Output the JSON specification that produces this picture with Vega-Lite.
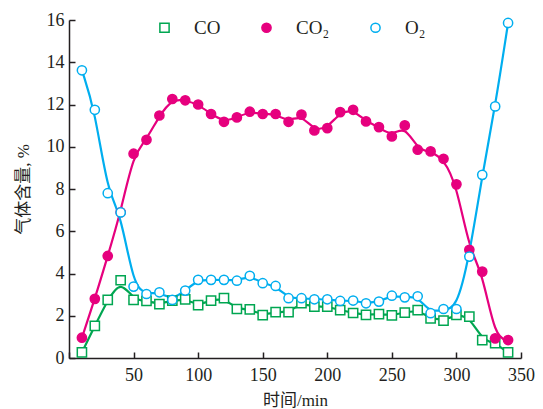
{
  "$schema": "https://vega.github.io/schema/vega-lite/v6.json",
  "width": 452,
  "height": 338,
  "autosize": "none",
  "padding": {"left": 69, "top": 20, "right": 22, "bottom": 51},
  "background": "white",
  "config": {
    "view": {"stroke": null},
    "font": "Liberation Serif, Noto Sans CJK SC",
    "axis": {
      "grid": false,
      "domainColor": "#231f20",
      "domainWidth": 1.5,
      "tickColor": "#231f20",
      "tickWidth": 1.5,
      "tickSize": -6,
      "labelFont": "Liberation Serif",
      "labelFontSize": 18,
      "labelColor": "#231f20",
      "labelOverlap": false,
      "labelBound": false,
      "labelFlush": false,
      "titleFont": "Liberation Serif, Noto Sans CJK SC",
      "titleFontSize": 17,
      "titleFontWeight": "normal",
      "titleColor": "#231f20"
    },
    "legend": {
      "title": null,
      "orient": "none",
      "legendX": 86,
      "legendY": -2,
      "direction": "horizontal",
      "padding": 0,
      "symbolSize": 85,
      "symbolStrokeWidth": 1.5,
      "labelFont": "Liberation Serif",
      "labelFontSize": 19,
      "labelColor": "#231f20",
      "labelOffset": 20,
      "columnPadding": 36
    }
  },
  "data": {
    "values": [
      {"t": 10, "gas": "CO", "v": 0.27}, {"t": 20, "gas": "CO", "v": 1.52}, {"t": 30, "gas": "CO", "v": 2.75}, {"t": 40, "gas": "CO", "v": 3.68},
      {"t": 50, "gas": "CO", "v": 2.75}, {"t": 60, "gas": "CO", "v": 2.7}, {"t": 70, "gas": "CO", "v": 2.55}, {"t": 80, "gas": "CO", "v": 2.72},
      {"t": 90, "gas": "CO", "v": 2.78}, {"t": 100, "gas": "CO", "v": 2.5}, {"t": 110, "gas": "CO", "v": 2.72}, {"t": 120, "gas": "CO", "v": 2.83},
      {"t": 130, "gas": "CO", "v": 2.32}, {"t": 140, "gas": "CO", "v": 2.3}, {"t": 150, "gas": "CO", "v": 2.03}, {"t": 160, "gas": "CO", "v": 2.17},
      {"t": 170, "gas": "CO", "v": 2.17}, {"t": 180, "gas": "CO", "v": 2.6}, {"t": 190, "gas": "CO", "v": 2.43}, {"t": 200, "gas": "CO", "v": 2.43},
      {"t": 210, "gas": "CO", "v": 2.27}, {"t": 220, "gas": "CO", "v": 2.13}, {"t": 230, "gas": "CO", "v": 2.04}, {"t": 240, "gas": "CO", "v": 2.08},
      {"t": 250, "gas": "CO", "v": 2.02}, {"t": 260, "gas": "CO", "v": 2.15}, {"t": 270, "gas": "CO", "v": 2.27}, {"t": 280, "gas": "CO", "v": 1.88},
      {"t": 290, "gas": "CO", "v": 1.77}, {"t": 300, "gas": "CO", "v": 2.04}, {"t": 310, "gas": "CO", "v": 1.96}, {"t": 320, "gas": "CO", "v": 0.85},
      {"t": 330, "gas": "CO", "v": 0.7}, {"t": 340, "gas": "CO", "v": 0.27},
      {"t": 10, "gas": "CO₂", "v": 0.96}, {"t": 20, "gas": "CO₂", "v": 2.8}, {"t": 30, "gas": "CO₂", "v": 4.83}, {"t": 40, "gas": "CO₂", "v": 6.9},
      {"t": 50, "gas": "CO₂", "v": 9.67}, {"t": 60, "gas": "CO₂", "v": 10.33}, {"t": 70, "gas": "CO₂", "v": 11.48}, {"t": 80, "gas": "CO₂", "v": 12.26},
      {"t": 90, "gas": "CO₂", "v": 12.2}, {"t": 100, "gas": "CO₂", "v": 12.0}, {"t": 110, "gas": "CO₂", "v": 11.55}, {"t": 120, "gas": "CO₂", "v": 11.18},
      {"t": 130, "gas": "CO₂", "v": 11.39}, {"t": 140, "gas": "CO₂", "v": 11.66}, {"t": 150, "gas": "CO₂", "v": 11.55}, {"t": 160, "gas": "CO₂", "v": 11.55},
      {"t": 170, "gas": "CO₂", "v": 11.18}, {"t": 180, "gas": "CO₂", "v": 11.52}, {"t": 190, "gas": "CO₂", "v": 10.77}, {"t": 200, "gas": "CO₂", "v": 10.88},
      {"t": 210, "gas": "CO₂", "v": 11.64}, {"t": 220, "gas": "CO₂", "v": 11.75}, {"t": 230, "gas": "CO₂", "v": 11.2}, {"t": 240, "gas": "CO₂", "v": 10.93},
      {"t": 250, "gas": "CO₂", "v": 10.49}, {"t": 260, "gas": "CO₂", "v": 11.01}, {"t": 270, "gas": "CO₂", "v": 9.86}, {"t": 280, "gas": "CO₂", "v": 9.78},
      {"t": 290, "gas": "CO₂", "v": 9.43}, {"t": 300, "gas": "CO₂", "v": 8.22}, {"t": 310, "gas": "CO₂", "v": 5.12}, {"t": 320, "gas": "CO₂", "v": 4.09},
      {"t": 330, "gas": "CO₂", "v": 0.93}, {"t": 340, "gas": "CO₂", "v": 0.85},
      {"t": 10, "gas": "O₂", "v": 13.62}, {"t": 20, "gas": "O₂", "v": 11.75}, {"t": 30, "gas": "O₂", "v": 7.8}, {"t": 40, "gas": "O₂", "v": 6.89},
      {"t": 50, "gas": "O₂", "v": 3.38}, {"t": 60, "gas": "O₂", "v": 3.03}, {"t": 70, "gas": "O₂", "v": 3.11}, {"t": 80, "gas": "O₂", "v": 2.75},
      {"t": 90, "gas": "O₂", "v": 3.19}, {"t": 100, "gas": "O₂", "v": 3.7}, {"t": 110, "gas": "O₂", "v": 3.7}, {"t": 120, "gas": "O₂", "v": 3.7},
      {"t": 130, "gas": "O₂", "v": 3.66}, {"t": 140, "gas": "O₂", "v": 3.89}, {"t": 150, "gas": "O₂", "v": 3.54}, {"t": 160, "gas": "O₂", "v": 3.41},
      {"t": 170, "gas": "O₂", "v": 2.83}, {"t": 180, "gas": "O₂", "v": 2.83}, {"t": 190, "gas": "O₂", "v": 2.78}, {"t": 200, "gas": "O₂", "v": 2.78},
      {"t": 210, "gas": "O₂", "v": 2.7}, {"t": 220, "gas": "O₂", "v": 2.72}, {"t": 230, "gas": "O₂", "v": 2.59}, {"t": 240, "gas": "O₂", "v": 2.67},
      {"t": 250, "gas": "O₂", "v": 2.95}, {"t": 260, "gas": "O₂", "v": 2.87}, {"t": 270, "gas": "O₂", "v": 2.92}, {"t": 280, "gas": "O₂", "v": 2.12},
      {"t": 290, "gas": "O₂", "v": 2.32}, {"t": 300, "gas": "O₂", "v": 2.32}, {"t": 310, "gas": "O₂", "v": 4.8}, {"t": 320, "gas": "O₂", "v": 8.67},
      {"t": 330, "gas": "O₂", "v": 11.91}, {"t": 340, "gas": "O₂", "v": 15.86}
    ]
  },
  "encoding": {
    "x": {
      "field": "t", "type": "quantitative",
      "scale": {"domain": [0, 350], "nice": false},
      "axis": {
        "title": "时间/min",
        "values": [0, 50, 100, 150, 200, 250, 300, 350],
        "labelExpr": "datum.value == 0 ? '' : datum.label",
        "labelPadding": 14,
        "titlePadding": 8
      }
    },
    "y": {
      "field": "v", "type": "quantitative",
      "scale": {"domain": [0, 16], "nice": false},
      "axis": {
        "title": "气体含量, %",
        "values": [0, 2, 4, 6, 8, 10, 12, 14, 16],
        "labelPadding": 11,
        "titlePadding": 14
      }
    }
  },
  "layer": [
    {
      "mark": {"type": "line", "interpolate": "basis", "strokeWidth": 2.2},
      "encoding": {
        "stroke": {
          "field": "gas", "type": "nominal",
          "scale": {"domain": ["CO", "CO₂", "O₂"], "range": ["#00a651", "#e6007e", "#00aeef"]}
        }
      }
    },
    {
      "mark": {"type": "point", "size": 85, "strokeWidth": 1.5, "opacity": 1, "fillOpacity": 1},
      "encoding": {
        "stroke": {
          "field": "gas", "type": "nominal",
          "scale": {"domain": ["CO", "CO₂", "O₂"], "range": ["#00a651", "#e6007e", "#00aeef"]}
        },
        "fill": {
          "field": "gas", "type": "nominal",
          "scale": {"domain": ["CO", "CO₂", "O₂"], "range": ["white", "#e6007e", "white"]}
        },
        "shape": {
          "field": "gas", "type": "nominal",
          "scale": {"domain": ["CO", "CO₂", "O₂"], "range": ["square", "circle", "circle"]}
        }
      }
    }
  ]
}
